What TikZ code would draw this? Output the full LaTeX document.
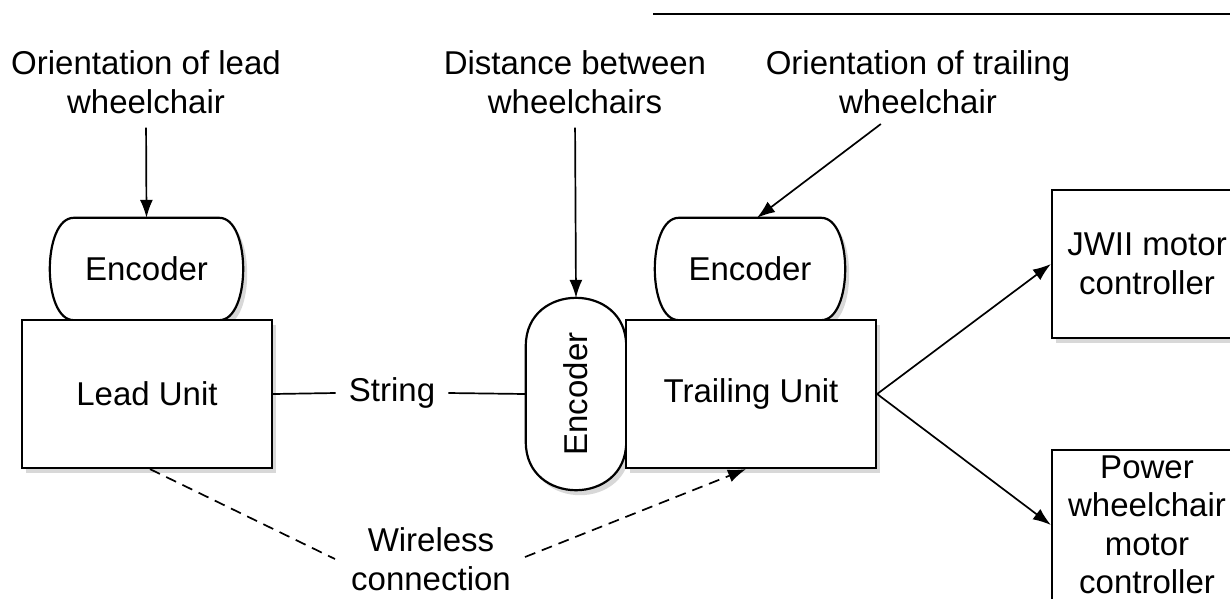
\documentclass[tikz,border=0pt]{standalone}
\usepackage{fontspec}
\usepackage{graphicx}
\setmainfont{Liberation Sans}
\usetikzlibrary{arrows.meta,shadows}
\pgfdeclarelayer{bg}
\pgfsetlayers{bg,main}
\tikzset{
  lbl/.style={font=\fontsize{33}{38.5}\selectfont, align=center, inner sep=2pt},
  shd/.style={drop shadow={opacity=0.3, shadow xshift=4pt, shadow yshift=-5pt}},
  unitbox/.style={lbl, draw, line width=2.2pt, fill=white, shd},
  encline/.style={draw, line width=2.2pt, fill=white, shd},
  arr/.style={-{Latex[length=18pt,width=13pt]}, line width=1.7pt},
  link/.style={line width=1.7pt},
  wlink/.style={line width=1.7pt, dash pattern=on 11pt off 7pt},
}
\newcommand\hencpath[2]{%
  \draw[encline] ([xshift=#2]#1.north west) -- ([xshift=-#2]#1.north east)
   .. controls ([xshift=#2/3]#1.north east) and ([xshift=#2/3]#1.south east) .. ([xshift=-#2]#1.south east)
   -- ([xshift=#2]#1.south west)
   .. controls ([xshift=-#2/3]#1.south west) and ([xshift=-#2/3]#1.north west) .. cycle;}
\newcommand\vencpath[2]{%
  \draw[encline] ([yshift=-#2]#1.north west) -- ([yshift=#2]#1.south west)
   .. controls ([yshift=-#2/3]#1.south west) and ([yshift=-#2/3]#1.south east) .. ([yshift=#2]#1.south east)
   -- ([yshift=-#2]#1.north east)
   .. controls ([yshift=#2/3]#1.north east) and ([yshift=#2/3]#1.north west) .. cycle;}
\begin{document}
\begin{tikzpicture}[x=1pt,y=-1pt]
\useasboundingbox (0,0) rectangle (1230,598);
\clip (0,0) rectangle (1230,598);
\begin{pgfonlayer}{bg}
  \fill[white] (0,0) rectangle (1230,598);
\end{pgfonlayer}

% top rule
\draw[line width=1.6pt] (653,14) -- (1230,14);

% texts
\node[lbl] (t1) at (146,82) {Orientation of lead\\wheelchair};
\node[lbl] (t2) at (575,82) {Distance between\\wheelchairs};
\node[lbl] (t3) at (918,82) {Orientation of trailing\\wheelchair};

% encoders
\node[lbl, minimum width=193pt, minimum height=102pt] (enc1) at (146.5,269) {Encoder};
\node[lbl, minimum width=190pt, minimum height=102pt] (enc2) at (750,269) {Encoder};
\node[lbl, minimum width=100pt, minimum height=192pt] (venc) at (576,394) {\rotatebox{90}{Encoder}};
\begin{pgfonlayer}{bg}
  \hencpath{enc1}{24pt}
  \hencpath{enc2}{24pt}
  \vencpath{venc}{48pt}
\end{pgfonlayer}

% units
\node[unitbox, minimum width=250pt, minimum height=148pt] (lead) at (147,394) {Lead Unit};
\node[unitbox, minimum width=250pt, minimum height=148pt] (trail) at (751,394) {Trailing Unit};
\node[unitbox, minimum width=190pt, minimum height=148pt] (jw) at (1147,264) {JWII motor\\controller};
\node[unitbox, minimum width=190pt, minimum height=150pt] (pw) at (1147,525) {Power\\wheelchair\\motor\\controller};

% labels on links
\node[lbl, inner sep=13pt] (str) at (392,393) {String};
\node[lbl] (wl) at (431,559) {Wireless\\connection};

% connectors
\draw[arr, shorten <=12pt] (t1.south) -- (enc1.north);
\draw[arr, shorten <=12pt] (t2.south) -- (venc.north);
\draw[arr, shorten <=14pt] ([xshift=-26pt]t3.south) -- ([xshift=7pt]enc2.north);
\draw[link] (lead.east) -- (str.west);
\draw[link] (str.east) -- (venc.west);
\draw[arr] (trail.east) -- (jw.west);
\draw[arr] (trail.east) -- (pw.west);
\draw[wlink] ([xshift=3pt]lead.south) -- ([xshift=-14pt]wl.west);
\draw[wlink, -{Latex[length=18pt,width=13pt]}] ([xshift=12pt,yshift=2pt]wl.east) -- ([xshift=-5pt]trail.south);
\end{tikzpicture}
\end{document}
